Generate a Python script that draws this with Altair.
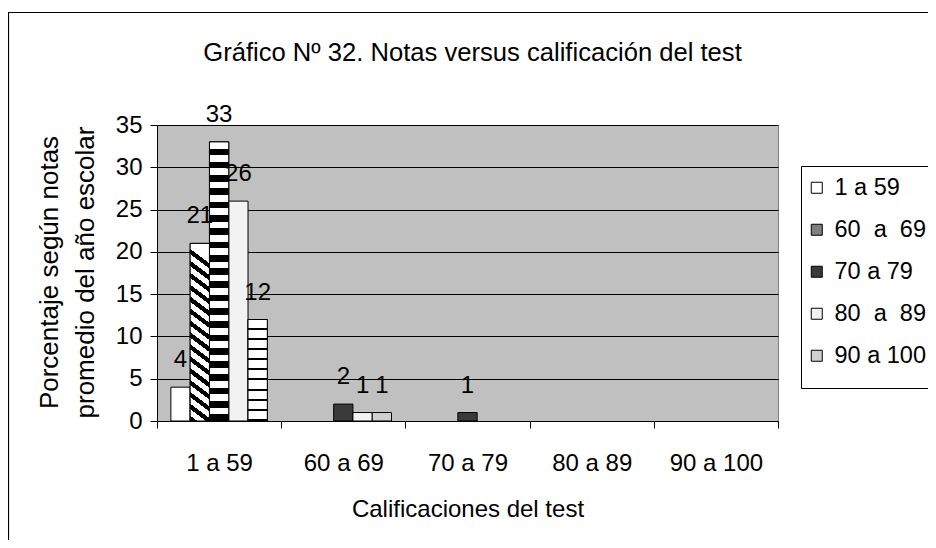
import altair as alt
import pandas as pd

# ---- data ----
categories = ["1 a 59", "60 a 69", "70 a 79", "80 a 89", "90 a 100"]
NB = "\u00a0"
series = ["1 a 59", f"60{NB}{NB}a{NB}{NB}69", "70 a 79", f"80{NB}{NB}a{NB}{NB}89", "90 a 100"]
vals_1_59 = [4, 0, 0, 0, 0]
vals_60_69 = [21, 0, 0, 0, 0]
vals_70_79 = [33, 2, 1, 0, 0]
vals_80_89 = [26, 1, 0, 0, 0]
vals_90_100 = [12, 1, 0, 0, 0]
all_vals = [vals_1_59, vals_60_69, vals_70_79, vals_80_89, vals_90_100]
y_ticks = [0, 5, 10, 15, 20, 25, 30, 35]
chart_title = "Gráfico Nº 32. Notas versus calificación del test"

rows = []
for s, vals in zip(series, all_vals):
    for c, v in zip(categories, vals):
        if v > 0:
            rows.append({"cat": c, "serie": s, "valor": v})
df = pd.DataFrame(rows)

FONT = "Liberation Sans"
W, H = 621, 296

x_enc = alt.X("cat:N", sort=categories,
              scale=alt.Scale(domain=categories, paddingInner=0, paddingOuter=0),
              axis=alt.Axis(title="Calificaciones del test", labelAngle=0, labelFontSize=24,
                            labelFont=FONT, labelColor="black", labelPadding=23,
                            labelBaseline="top",
                            tickBand="extent", tickSize=7, tickColor="black",
                            domainColor="black", grid=False,
                            titleFont=FONT, titleFontSize=24, titleFontWeight="normal",
                            titleColor="black", titleBaseline="alphabetic",
                            titleX=W / 2, titleY=95, titleAnchor="middle"))
xo_enc = alt.XOffset("serie:N", sort=series,
                     scale=alt.Scale(domain=series, paddingInner=0, paddingOuter=0.72))
y_enc = alt.Y("valor:Q",
              scale=alt.Scale(domain=[0, 35], nice=False),
              axis=alt.Axis(values=y_ticks, title=["Porcentaje según notas", "promedio del año escolar"],
                            labelFontSize=24, labelFont=FONT, labelColor="black", labelPadding=8,
                            tickSize=7, tickColor="black", domainColor="black",
                            grid=True, gridColor="black", gridWidth=1,
                            titleFont=FONT, titleFontSize=26, titleFontWeight="normal",
                            titleColor="black", titleLineHeight=36, titleAngle=-90,
                            titleBaseline="alphabetic", titleAlign="center",
                            titleX=-100, titleY=147))


def stripe_gradient(n, black_frac, x1, y1, x2, y2):
    stops = []
    for k in range(n):
        o0 = k / n
        o1 = (k + 1 - black_frac) / n
        o2 = (k + 1) / n
        stops += [{"offset": o0, "color": "white"}, {"offset": o1, "color": "white"},
                  {"offset": o1, "color": "black"}, {"offset": o2, "color": "black"}]
    return {"gradient": "linear", "x1": x1, "y1": y1, "x2": x2, "y2": y2, "stops": stops}


fills = {
    series[1]: stripe_gradient(15, 0.45, 0.0815, 0, 0, 1),
    series[2]: stripe_gradient(21, 0.5, 0, 0, 0, 1),
    series[4]: stripe_gradient(10, 0.2, 0, 0, 0, 1),
}

border = alt.Chart(pd.DataFrame({"a": [0]})).mark_rect(
    fill="transparent", stroke="black", strokeWidth=1.2
).encode(x=alt.value(-148.5), x2=alt.value(800), y=alt.value(-112.5), y2=alt.value(460))

title_mark = alt.Chart(pd.DataFrame({"a": [0]})).mark_text(
    font=FONT, fontSize=25.6, color="black", align="center", baseline="alphabetic"
).encode(x=alt.value(W / 2 + 5), y=alt.value(-64), text=alt.value(chart_title))

bars = alt.Chart(df).mark_bar(stroke="black", strokeWidth=1).encode(
    x=x_enc, xOffset=xo_enc, y=y_enc,
    color=alt.Color("serie:N", sort=series,
                    scale=alt.Scale(domain=series,
                                    range=["#ffffff", "#7f7f7f", "#3a3a3a", "#f2f2f2", "#d0d0d0"]),
                    legend=alt.Legend(title=NB, titleOrient="bottom", titleFontSize=6,
                                      titlePadding=5,
                                      orient="none", legendX=644, legendY=41,
                                      labelFontSize=23.5, labelFont=FONT, labelColor="black",
                                      symbolType="square", symbolSize=121,
                                      symbolStrokeColor="black", symbolStrokeWidth=1,
                                      symbolOffset=-6,
                                      rowPadding=17, padding=10, labelOffset=6,
                                      strokeColor="black", fillColor="white"))
)

layers = [border, title_mark, bars]
for s, g in fills.items():
    sub = df[(df["cat"] == categories[0]) & (df["serie"] == s)]
    layers.append(
        alt.Chart(sub).mark_bar(fill=g, stroke="black", strokeWidth=1).encode(
            x=x_enc, xOffset=xo_enc, y=y_enc)
    )

labels = alt.Chart(df).mark_text(dy=-20, baseline="alphabetic", fontSize=24,
                                 font=FONT, color="black").encode(
    x=x_enc, xOffset=xo_enc, y=y_enc, text="valor:Q")
layers.append(labels)

chart = alt.layer(*layers).properties(
    width=W, height=H,
    autosize=alt.AutoSizeParams(type="none"),
    padding={"left": 149, "top": 117, "right": 150, "bottom": 119},
    background="white",
).configure_view(fill="#C0C0C0", stroke="#808080")

chart.save("out.html", embed_options={"renderer": "svg", "actions": False})
